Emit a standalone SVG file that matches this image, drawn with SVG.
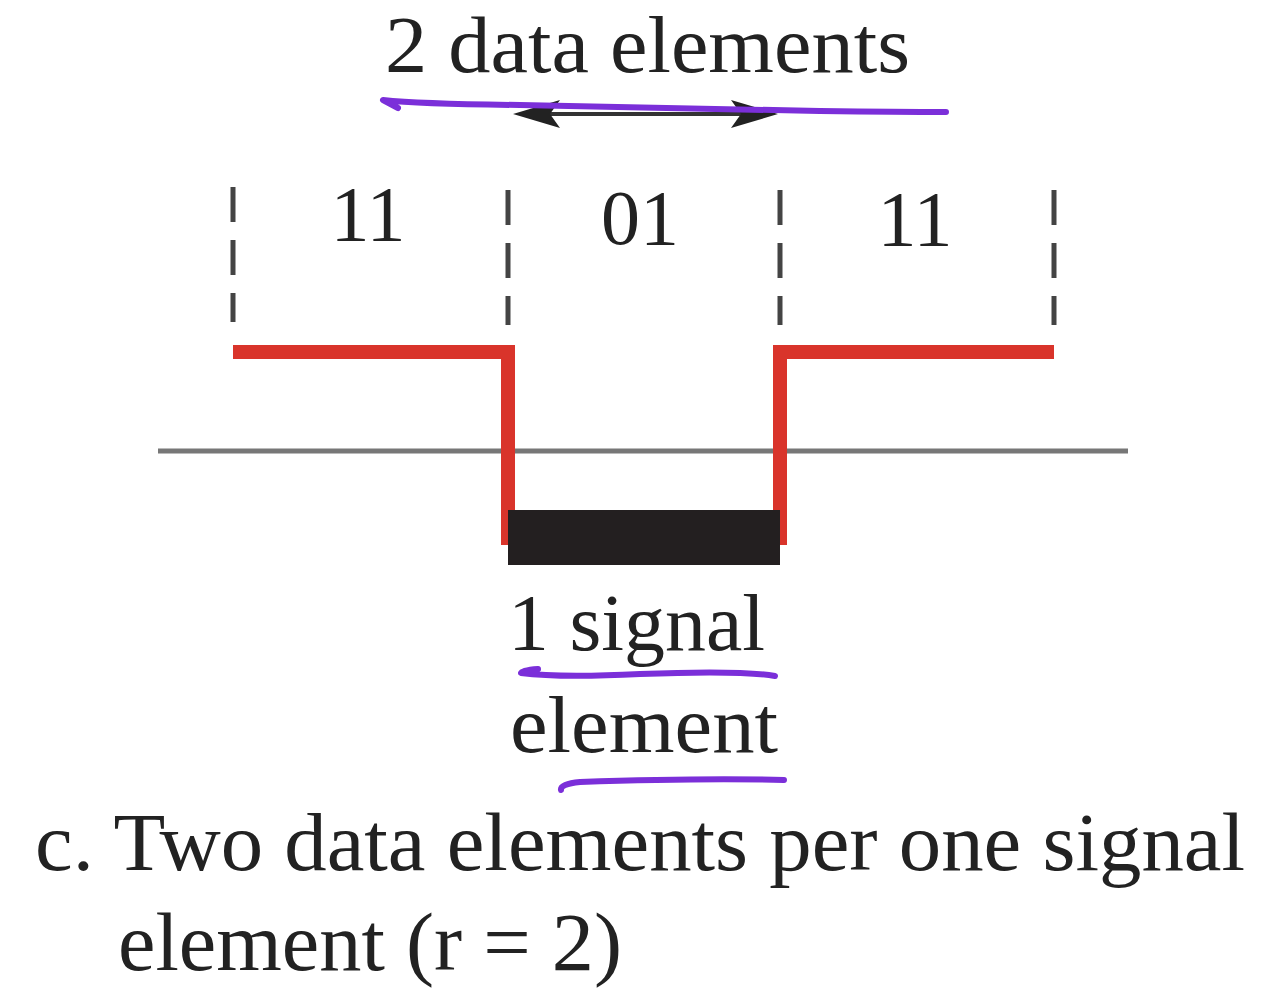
<svg xmlns="http://www.w3.org/2000/svg" width="1280" height="999" viewBox="0 0 1280 999">
<defs>
<style>
.t{font-family:"Liberation Serif","Times New Roman",serif;fill:#222}
.dash{stroke:#444;stroke-width:5;stroke-dasharray:35 18;fill:none}
.pen{stroke:#7B2FD9;stroke-width:6;fill:none;stroke-linecap:round;stroke-linejoin:round}
.sig{stroke:#D9342B;stroke-width:14;fill:none;stroke-linejoin:miter}
.head{fill:#222}
</style>
</defs>
<rect width="1280" height="999" fill="#fff"/>
<g id="title">
<text class="t" x="385" y="72" font-size="80" textLength="525" lengthAdjust="spacingAndGlyphs">2 data elements</text>
</g>
<g id="connectors">
<line x1="530" y1="114" x2="765" y2="114" stroke="#333" stroke-width="4"/>
<path class="head" d="M513,114 L560,100 L550,114 L560,128 Z"/>
<path class="head" d="M778,114 L731,100 L741,114 L731,128 Z"/>
</g>
<g id="dividers">
<line class="dash" x1="233" y1="187" x2="233" y2="322"/>
<line class="dash" x1="508" y1="190" x2="508" y2="325"/>
<line class="dash" x1="780" y1="190" x2="780" y2="325"/>
<line class="dash" x1="1054" y1="190" x2="1054" y2="325"/>
</g>
<g id="bits">
<text class="t" x="368" y="240" font-size="78" text-anchor="middle">11</text>
<text class="t" x="640" y="244" font-size="78" text-anchor="middle">01</text>
<text class="t" x="915" y="245" font-size="78" text-anchor="middle">11</text>
</g>
<g id="axis">
<line x1="158" y1="451" x2="1128" y2="451" stroke="#777" stroke-width="5"/>
</g>
<g id="signal">
<polyline class="sig" points="233,352 508,352 508,545"/>
<polyline class="sig" points="780,545 780,352 1054,352"/>
<rect x="508" y="510" width="272" height="55" fill="#231F20"/>
</g>
<g id="signal-label">
<text class="t" x="508" y="650" font-size="81" textLength="257" lengthAdjust="spacingAndGlyphs">1 signal</text>
<text class="t" x="510" y="752" font-size="81" textLength="268" lengthAdjust="spacingAndGlyphs">element</text>
</g>
<g id="caption">
<text class="t" x="35" y="870" font-size="82" textLength="1210" lengthAdjust="spacingAndGlyphs">c. Two data elements per one signal</text>
<text class="t" x="118" y="970" font-size="82" textLength="504" lengthAdjust="spacingAndGlyphs">element (r = 2)</text>
</g>
<g id="annotations">
<path class="pen" d="M398,108 L383,100 Q420,104 520,105 Q700,108 820,111 Q900,112 946,112"/>
<path class="pen" d="M538,669 Q522,670 521,673 Q560,678 640,674 Q740,670 775,676"/>
<path class="pen" d="M561,790 Q560,784 580,782 Q700,778 784,780"/>
</g>
</svg>
